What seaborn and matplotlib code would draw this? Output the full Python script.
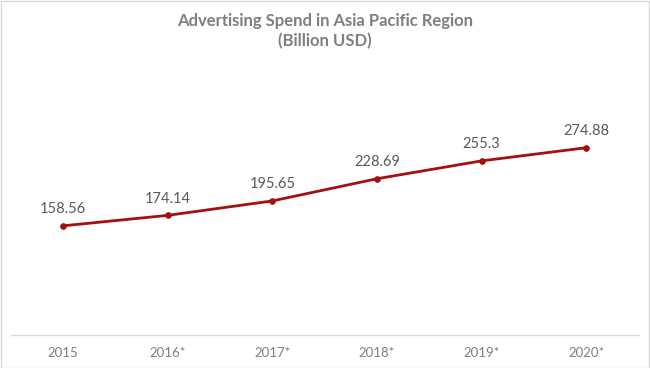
import matplotlib
matplotlib.use("Agg")
import matplotlib.pyplot as plt
import seaborn as sns
import pandas as pd

years = ["2015", "2016*", "2017*", "2018*", "2019*", "2020*"]
spend = [158.56, 174.14, 195.65, 228.69, 255.3, 274.88]
value_labels = ["158.56", "174.14", "195.65", "228.69", "255.3", "274.88"]

sns.set_style("white")
plt.rcParams["font.family"] = ["Lato", "DejaVu Sans"]

df = pd.DataFrame({"year": years, "spend": spend})

fig = plt.figure(figsize=(6.5, 3.68), dpi=100)
ax = fig.add_axes([0.0165, 0.0897, 0.966, 0.75])

sns.lineplot(data=df, x="year", y="spend", ax=ax, color="#a50f0f", linewidth=2,
             marker="o", markersize=4, markeredgecolor="#a50f0f", sort=False)

for i, (v, lab) in enumerate(zip(spend, value_labels)):
    ax.annotate(lab, (i, v), xytext=(0, 7), textcoords="offset points",
                ha="center", va="bottom", fontsize=10.5, color="#595959")

ax.set_xlim(-0.5, 5.5)
ax.set_ylim(-4, 407)
ax.set_xlabel("")
ax.set_ylabel("")
ax.set_yticks([])
ax.tick_params(axis="x", length=0, labelsize=9.5, labelcolor="#7f7f7f", pad=9)
for s in ["top", "left", "right"]:
    ax.spines[s].set_visible(False)
ax.spines["bottom"].set_color("#d9d9d9")
ax.spines["bottom"].set_linewidth(1)

fig.text(0.5, 0.965, "Advertising Spend in Asia Pacific Region\n(Billion USD)",
         ha="center", va="top", fontsize=12, fontweight="bold", color="#7f7f7f",
         linespacing=1.3)

fig.patches.append(plt.Rectangle((0.001, 0.001), 0.997, 0.997, transform=fig.transFigure,
                                 fill=False, edgecolor="#d9d9d9", linewidth=1))

fig.savefig("out.png", dpi=100)
